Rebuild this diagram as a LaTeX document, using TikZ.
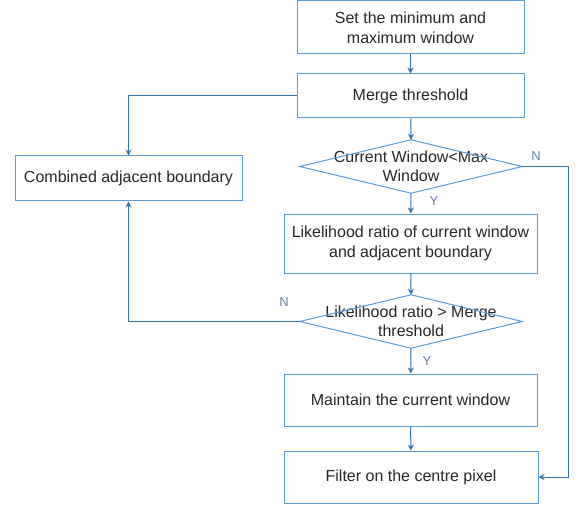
\documentclass[tikz,border=0pt]{standalone}
\usepackage{fontspec}
\setmainfont{Liberation Sans}
\usetikzlibrary{arrows.meta}
\definecolor{boxc}{RGB}{91,155,213}
\definecolor{arrc}{RGB}{49,112,168}
\definecolor{lblc}{RGB}{96,128,168}
\tikzset{
  box/.style={draw=boxc, line width=1pt, rectangle, inner sep=0pt, align=center,
    font=\fontsize{16}{20}\selectfont, text=black!85},
  dia/.style={rectangle, inner sep=0pt, align=center,
    font=\fontsize{16}{19}\selectfont, text=black!85},
  arr/.style={draw=arrc, line width=1pt, -{Stealth[length=6pt,width=6pt]}},
  lbl/.style={font=\fontsize{13}{13}\selectfont, text=lblc}
}
\begin{document}
\begin{tikzpicture}[x=1pt,y=-1pt]
\useasboundingbox (0,0) rectangle (576,508);
\node[box, minimum width=227pt, minimum height=53pt] (b1) at (410.5,27.5) {Set the minimum and\\maximum window};
\node[box, minimum width=227pt, minimum height=44pt] (b2) at (410.5,96) {Merge threshold};
\node[dia, minimum width=222pt, minimum height=53pt] (d1) at (411,166.5) {Current Window<Max\\Window};
\draw[boxc, line width=1pt] (d1.west) -- (d1.north) -- (d1.east) -- (d1.south) -- cycle;
\node[box, minimum width=227pt, minimum height=45pt] (cab) at (128.5,178.5) {Combined adjacent boundary};
\node[box, minimum width=253pt, minimum height=59pt] (lr) at (410.5,243.5) {Likelihood ratio of current window\\and adjacent boundary};
\node[dia, minimum width=222pt, minimum height=53pt] (d2) at (411,321.5) {Likelihood ratio > Merge\\threshold};
\draw[boxc, line width=1pt] (d2.west) -- (d2.north) -- (d2.east) -- (d2.south) -- cycle;
\node[box, minimum width=253pt, minimum height=52pt] (mt) at (410.5,400) {Maintain the current window};
\node[box, minimum width=254pt, minimum height=52pt] (fl) at (411,477) {Filter on the centre pixel};

\draw[arr] (b1) -- (b2);
\draw[arr] (b2) -- (d1.north);
\draw[arr] (d1.south) -- (lr);
\draw[arr] (lr) -- (d2.north);
\draw[arr] (d2.south) -- (mt);
\draw[arr] (mt) -- (fl);
\draw[arr] (b2.west) -| (cab.north);
\draw[arr] (d2.west) -| (cab.south);
\draw[arr] (d1.east) -- ++(46,0) |- (fl.east);

\node[lbl] (n1) at (536,156) {N};
\node[lbl] (y1) at (434,201) {Y};
\node[lbl] (n2) at (284,302) {N};
\node[lbl] (y2) at (427,361) {Y};
\end{tikzpicture}
\end{document}
